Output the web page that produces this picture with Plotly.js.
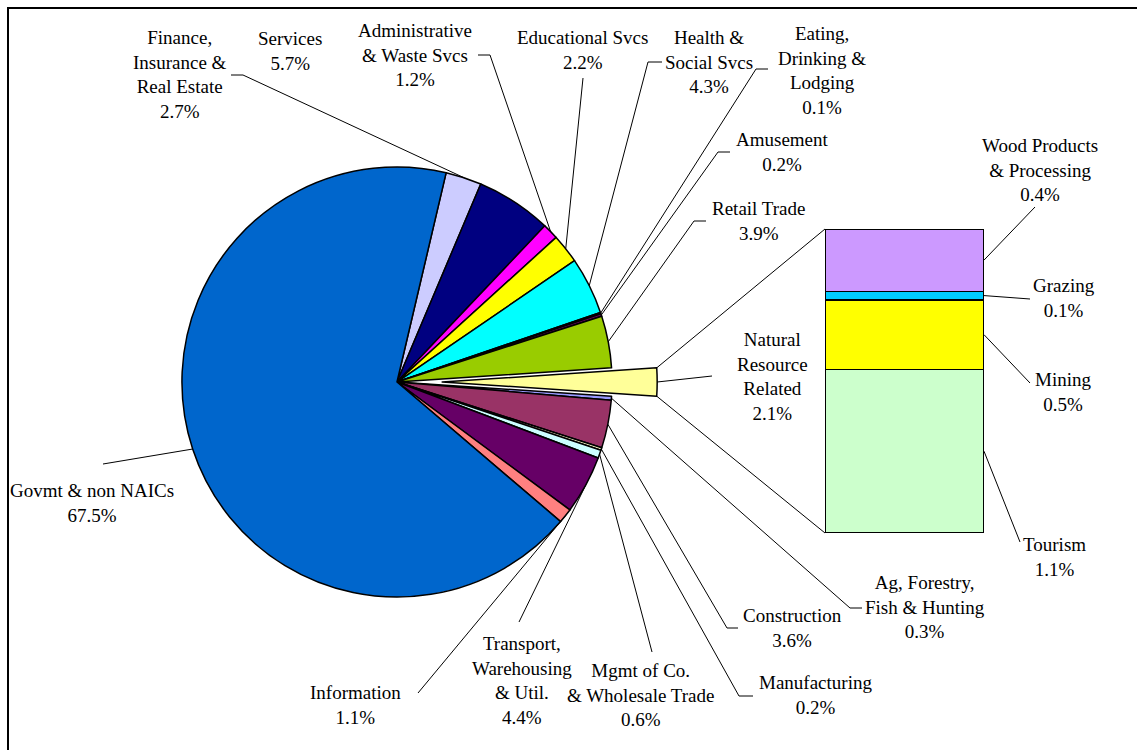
<!DOCTYPE html>
<html>
<head>
<meta charset="utf-8">
<script src="https://cdn.plot.ly/plotly-3.0.1.min.js"></script>
<style>html,body{margin:0;padding:0;background:#fff;}#chart{width:1137px;height:750px;}</style>
</head>
<body>
<div id="chart"></div>
<script>
// ---- data ----
const pieLabels = ["Finance,<br>Insurance &<br>Real Estate", "Services", "Administrative<br>& Waste Svcs", "Educational Svcs",
  "Health &<br>Social Svcs", "Eating,<br>Drinking &<br>Lodging", "Amusement", "Retail Trade", "Natural<br>Resource<br>Related",
  "Ag, Forestry,<br>Fish & Hunting", "Construction", "Manufacturing", "Mgmt of Co.<br>& Wholesale Trade",
  "Transport,<br>Warehousing<br>& Util.", "Information", "Govmt & non NAICs"];
const pieValues = [2.7, 5.7, 1.2, 2.2, 4.3, 0.1, 0.2, 3.9, 2.1, 0.3, 3.6, 0.2, 0.6, 4.4, 1.1, 67.5];
const pieColors = ["#CCCCFF", "#000080", "#FF00FF", "#FFFF00", "#00FFFF", "#800080", "#660066", "#99CC00", "#FFFF99",
  "#9999FF", "#993366", "#FFFFCC", "#CCFFFF", "#660066", "#FF8080", "#0066CC"];
const explodedIndex = 8;

const barLabels = ["Tourism", "Mining", "Grazing", "Wood Products<br>& Processing"];
const barValues = [1.13, 0.48, 0.06, 0.43];
const barColors = ["#CCFFCC", "#FFFF00", "#00CCFF", "#CC99FF"];

// ---- layout constants (positions, styles) ----
const W = 1137, H = 750;
const FONT = {family: "Liberation Serif, Times New Roman, serif", size: 19, color: "#000"};
const PULL = 0.21;
const pieDomX = [0.1203, 0.578], pieDomY = [0.1437, 0.8376];
const barDomX = [825 / W, 984 / W], barDomY = [1 - 533 / H, 1 - 229 / H];

// label text centres and leader stub points in pixels (one per pie slice)
const pieLabelPos = [
  {t: [180, 75], pts: [[231, 75], [243, 75]]},
  {t: [290, 51], pts: []},
  {t: [415, 55], pts: [[478, 55], [490, 55]]},
  {t: [582, 50], pts: [[583, 78]]},
  {t: [709, 62], pts: [[662, 62], [648, 62]]},
  {t: [822, 70], pts: [[768, 69], [756, 69]]},
  {t: [782, 152], pts: [[730, 152], [718, 152]]},
  {t: [758, 221], pts: [[706, 221], [694, 221]]},
  {t: [772, 376], pts: [[712, 376]]},
  {t: [925, 607], pts: [[862, 608], [850, 608]]},
  {t: [792, 628], pts: [[738, 628], [727, 628]]},
  {t: [815, 695], pts: [[753, 696], [739, 696]]},
  {t: [640, 695], pts: [[652, 652]]},
  {t: [522, 680], pts: [[519, 622]]},
  {t: [355, 705], pts: [[418, 693]]},
  {t: [92, 503], pts: [[103, 464]]}
];
const barLabelPos = [
  {t: [1054, 557], pts: [[1020, 542]]},
  {t: [1063, 392], pts: [[1030, 383]]},
  {t: [1064, 298], pts: [[1030, 299]]},
  {t: [1040, 170], pts: [[1035, 207]]}
];

// ---- geometry derived from data + domains ----
const total = pieValues.reduce((a, b) => a + b, 0);
const cum = [];
pieValues.reduce((acc, v, i) => { cum[i] = acc; return acc + v; }, 0);
const rotation = 90 - 360 * (cum[explodedIndex] + pieValues[explodedIndex] / 2) / total;

const cx = W * (pieDomX[0] + pieDomX[1]) / 2;
const boxH = H * (pieDomY[1] - pieDomY[0]);
const cy = H * (1 - pieDomY[0]) - boxH / 2;
const R = Math.min(W * (pieDomX[1] - pieDomX[0]), boxH) / 2 / (1 + PULL);
const d2r = Math.PI / 180;

function angleAt(frac) { return rotation + 360 * frac / total; }
function polar(a, r, ox, oy) { return [ox + r * Math.sin(a * d2r), oy - r * Math.cos(a * d2r)]; }
function sliceEdge(i) {
  const a = angleAt(cum[i] + pieValues[i] / 2);
  let ox = cx, oy = cy;
  if (i === explodedIndex) { const s = polar(a, PULL * R, cx, cy); ox = s[0]; oy = s[1]; }
  return polar(a, R, ox, oy);
}
const ea = angleAt(cum[explodedIndex] + pieValues[explodedIndex] / 2);
const eShift = polar(ea, PULL * R, cx, cy);
const eTop = polar(angleAt(cum[explodedIndex]), R, eShift[0], eShift[1]);
const eBot = polar(angleAt(cum[explodedIndex] + pieValues[explodedIndex]), R, eShift[0], eShift[1]);

const barTotal = barValues.reduce((a, b) => a + b, 0);
const barLeft = W * barDomX[0], barRight = W * barDomX[1];
const barBottom = H * (1 - barDomY[0]), barTop = H * (1 - barDomY[1]);
function barY(v) { return barBottom - (v / barTotal) * (barBottom - barTop); }
const barCum = [];
barValues.reduce((acc, v, i) => { barCum[i] = acc; return acc + v; }, 0);

// ---- traces ----
const traces = [{
  type: "pie", values: pieValues, labels: pieLabels.map((l, i) => "s" + i), sort: false, direction: "clockwise",
  rotation: rotation, pull: pieValues.map((v, i) => i === explodedIndex ? PULL : 0),
  marker: {colors: pieColors, line: {color: "#000", width: 1.5}},
  textinfo: "none", hoverinfo: "skip", showlegend: false,
  domain: {x: pieDomX, y: pieDomY}
}];
barValues.forEach((v, i) => {
  traces.push({type: "bar", x: [0], y: [v], width: [1], marker: {color: barColors[i], line: {color: "#000", width: 1.5}},
    showlegend: false, hoverinfo: "skip", xaxis: "x", yaxis: "y"});
});

// ---- annotations and leader lines ----
const px = x => x / W, py = y => 1 - y / H;
const annotations = [], shapes = [];
function addLabel(text, pos, end) {
  annotations.push({xref: "paper", yref: "paper", x: px(pos.t[0]), y: py(pos.t[1]), xanchor: "center", yanchor: "middle",
    text: text, showarrow: false, font: FONT, align: "center"});
  if (pos.pts.length === 0) return;
  const pts = pos.pts.concat([end]);
  for (let k = 0; k < pts.length - 1; k++) {
    shapes.push({type: "line", xref: "paper", yref: "paper", x0: px(pts[k][0]), y0: py(pts[k][1]),
      x1: px(pts[k + 1][0]), y1: py(pts[k + 1][1]), line: {color: "#000", width: 1}});
  }
}
pieLabels.forEach((l, i) => addLabel(l + "<br>" + pieValues[i].toFixed(1) + "%", pieLabelPos[i], sliceEdge(i)));
barLabels.forEach((l, i) => addLabel(l + "<br>" + barValues[i].toFixed(1) + "%", barLabelPos[i],
  [barRight, barY(barCum[i] + barValues[i] / 2)]));

// connectors from exploded slice to the bar
shapes.push({type: "line", xref: "paper", yref: "paper", x0: px(eTop[0]), y0: py(eTop[1]), x1: px(barLeft), y1: py(barTop), line: {color: "#000", width: 1}});
shapes.push({type: "line", xref: "paper", yref: "paper", x0: px(eBot[0]), y0: py(eBot[1]), x1: px(barLeft), y1: py(barBottom), line: {color: "#000", width: 1}});
// outer frame (top and left edges visible)
shapes.push({type: "rect", xref: "paper", yref: "paper", x0: px(8), y0: py(8), x1: 1.05, y1: -0.05, line: {color: "#000", width: 2}, fillcolor: "rgba(0,0,0,0)"});

const layout = {
  width: W, height: H, margin: {l: 0, r: 0, t: 0, b: 0}, paper_bgcolor: "#fff", plot_bgcolor: "rgba(0,0,0,0)",
  barmode: "stack", bargap: 0, showlegend: false, font: FONT,
  xaxis: {domain: barDomX, range: [-0.5, 0.5], visible: false, fixedrange: true},
  yaxis: {domain: barDomY, range: [0, barTotal], visible: false, fixedrange: true},
  annotations: annotations, shapes: shapes
};
Plotly.newPlot("chart", traces, layout, {displayModeBar: false, staticPlot: true});
</script>
</body>
</html>
